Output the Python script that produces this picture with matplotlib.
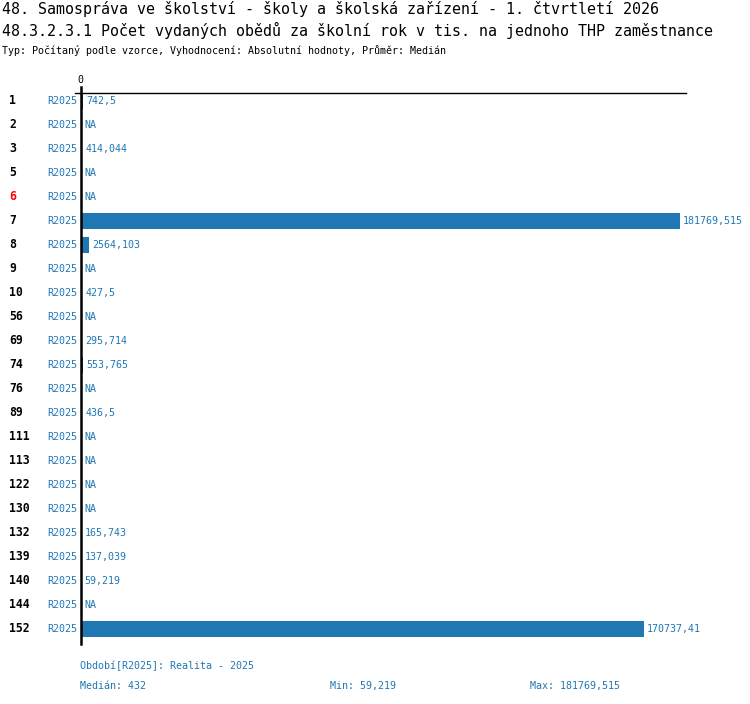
import matplotlib
matplotlib.use('Agg')
import matplotlib.pyplot as plt
from matplotlib.transforms import blended_transform_factory

# data
rows = ['1', '2', '3', '5', '6', '7', '8', '9', '10', '56', '69', '74', '76',
        '89', '111', '113', '122', '130', '132', '139', '140', '144', '152']
values = [742.5, None, 414.044, None, None, 181769.515, 2564.103, None, 427.5,
          None, 295.714, 553.765, None, 436.5, None, None, None, None,
          165.743, 137.039, 59.219, None, 170737.41]
labels = ['742,5', 'NA', '414,044', 'NA', 'NA', '181769,515', '2564,103', 'NA',
          '427,5', 'NA', '295,714', '553,765', 'NA', '436,5', 'NA', 'NA', 'NA',
          'NA', '165,743', '137,039', '59,219', 'NA', '170737,41']
red_rows = ['6']
period = 'R2025'

title1 = '48. Samospráva ve školství - školy a školská zařízení - 1. čtvrtletí 2026'
title2 = '48.3.2.3.1 Počet vydaných obědů za školní rok v tis. na jednoho THP zaměstnance'
subtitle = 'Typ: Počítaný podle vzorce, Vyhodnocení: Absolutní hodnoty, Průměr: Medián'
footer1 = 'Období[R2025]: Realita - 2025'
median_txt = 'Medián: 432'
min_txt = 'Min: 59,219'
max_txt = 'Max: 181769,515'

BLUE = '#1f77b4'
MONO = 'DejaVu Sans Mono'
W, H = 750, 704

fig = plt.figure(figsize=(W / 100, H / 100), dpi=100)
# axes: x=0 at px 81, max at px 680; rows 24 px apart starting at y=89
ax = fig.add_axes([81 / W, 1 - 641 / H, 599 / W, 552 / H])
n = len(rows)
ax.set_xlim(0, max(v for v in values if v is not None))
ax.set_ylim(n - 0.5, -0.5)
ax.axis('off')

for i, v in enumerate(values):
    if v is not None:
        ax.barh(i, v, height=16 / 24, color=BLUE, linewidth=0)
        xe = v
    else:
        xe = 0
    ax.annotate(labels[i], (xe, i), xytext=(3, 0), textcoords='offset pixels',
                va='center', ha='left', color=BLUE, family=MONO, fontsize=7.2,
                annotation_clip=False)

tr = blended_transform_factory(fig.transFigure, ax.transData)
for i, r in enumerate(rows):
    fig.text(9 / W, 0, r, transform=tr, va='center', ha='left',
             fontweight='bold', family=MONO, fontsize=8.3,
             color='red' if r in red_rows else 'black').set_y(i)
    fig.text(77 / W, 0, period, transform=tr, va='center', ha='right',
             family=MONO, fontsize=7.2, color=BLUE).set_y(i)

# axis lines
fig.add_artist(plt.Line2D([80.5 / W, 80.5 / W], [1 - 87 / H, 1 - 644 / H],
                          color='black', linewidth=1.8))
fig.add_artist(plt.Line2D([75 / W, 686 / W], [1 - 92.5 / H, 1 - 92.5 / H],
                          color='black', linewidth=1.0))
fig.text(80 / W, 1 - 80 / H, '0', ha='center', va='center', family=MONO,
         fontsize=7.2, color='black')

# titles
fig.text(2 / W, 1 - 9 / H, title1, ha='left', va='center', family=MONO,
         fontsize=10.8, color='black')
fig.text(2 / W, 1 - 30 / H, title2, ha='left', va='center', family=MONO,
         fontsize=10.8, color='black')
fig.text(2 / W, 1 - 50 / H, subtitle, ha='left', va='center', family=MONO,
         fontsize=7.2, color='black')

# footer
fig.text(80 / W, 1 - 666 / H, footer1, ha='left', va='center', family=MONO,
         fontsize=7.2, color=BLUE)
fig.text(80 / W, 1 - 686 / H, median_txt, ha='left', va='center', family=MONO,
         fontsize=7.2, color=BLUE)
fig.text(330 / W, 1 - 686 / H, min_txt, ha='left', va='center', family=MONO,
         fontsize=7.2, color=BLUE)
fig.text(530 / W, 1 - 686 / H, max_txt, ha='left', va='center', family=MONO,
         fontsize=7.2, color=BLUE)

fig.savefig('out.png', dpi=100, facecolor='white')
